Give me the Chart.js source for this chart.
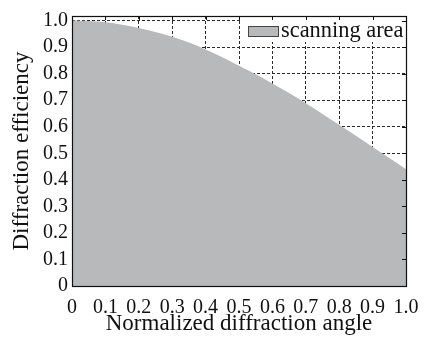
<!DOCTYPE html>
<html>
<head>
<meta charset="utf-8">
<script src="https://cdn.jsdelivr.net/npm/chart.js@4/dist/chart.umd.min.js"></script>
<style>
  body { margin: 0; background: #fff; }
  #wrap { width: 432px; height: 338px; }
</style>
</head>
<body>
<div id="wrap"><canvas id="effchart" width="432" height="338"></canvas></div>
<script>
// normalized diffraction angle and efficiency
var angles = [0, 0.05, 0.1, 0.15, 0.2, 0.25, 0.3, 0.35, 0.4, 0.45, 0.5,
              0.55, 0.6, 0.65, 0.7, 0.75, 0.8, 0.85, 0.9, 0.95, 1.0];
var efficiency = [1.0, 0.998, 0.993, 0.984, 0.972, 0.957, 0.939, 0.917, 0.891, 0.862, 0.830,
                  0.798, 0.763, 0.727, 0.688, 0.648, 0.607, 0.566, 0.524, 0.482, 0.44];

var xTicks = [0, 0.1, 0.2, 0.3, 0.4, 0.5, 0.6, 0.7, 0.8, 0.9, 1.0];
var xTickLabels = ["0", "0.1", "0.2", "0.3", "0.4", "0.5", "0.6", "0.7", "0.8", "0.9", "1.0"];
var yTicks = [0, 0.1, 0.2, 0.3, 0.4, 0.5, 0.6, 0.7, 0.8, 0.9, 1.0];
var yTickLabels = ["0", "0.1", "0.2", "0.3", "0.4", "0.5", "0.6", "0.7", "0.8", "0.9", "1.0"];

var seriesName = "scanning area";
var xTitle = "Normalized diffraction angle";
var yTitle = "Diffraction efficiency";

var fillColor = "#b8b9bb";

Chart.defaults.font.family = "'Liberation Serif', 'Times New Roman', serif";
Chart.defaults.color = "#111";

var points = angles.map(function (a, i) { return { x: a, y: efficiency[i] }; });

// frame, inner ticks and boxed legend in the upper right
var framePlugin = {
    id: "frame",
    afterDraw: function (chart) {
        var ctx = chart.ctx;
        var area = chart.chartArea;
        var xs = chart.scales.x, ys = chart.scales.y;
        ctx.save();

        // legend
        ctx.fillStyle = "#fff";
        ctx.fillRect(242, 17, area.right - 243, 25);
        ctx.fillStyle = fillColor;
        ctx.fillRect(248.5, 26.5, 30, 10);
        ctx.strokeStyle = "#444";
        ctx.lineWidth = 1;
        ctx.strokeRect(248.5, 26.5, 30, 10);
        ctx.fillStyle = "#111";
        ctx.font = "22.4px 'Liberation Serif'";
        ctx.textBaseline = "alphabetic";
        ctx.fillText(seriesName, 281, 37);

        // ticks on top and right
        ctx.strokeStyle = "#111";
        ctx.beginPath();
        xTicks.forEach(function (v) {
            var px = Math.round(xs.getPixelForValue(v)) + 0.5;
            ctx.moveTo(px, area.top);
            ctx.lineTo(px, area.top + 4);
        });
        yTicks.forEach(function (v) {
            var py = Math.round(ys.getPixelForValue(v)) + 0.5;
            ctx.moveTo(area.right, py);
            ctx.lineTo(area.right - 4, py);
        });
        ctx.stroke();

        ctx.lineWidth = 1.2;
        ctx.strokeRect(Math.round(area.left) + 0.5, Math.round(area.top) + 0.5,
            Math.round(area.right - area.left), Math.round(area.bottom - area.top));
        ctx.restore();
    }
};

var config = {
    type: "line",
    data: {
        datasets: [{
            label: seriesName,
            data: points,
            backgroundColor: fillColor,
            borderWidth: 0,
            pointRadius: 0,
            fill: "origin",
            cubicInterpolationMode: "monotone"
        }]
    },
    options: {
        responsive: false,
        animation: false,
        layout: { padding: { top: 11, right: 26, left: 0, bottom: 0 } },
        plugins: {
            legend: { display: false },
            tooltip: { enabled: false }
        },
        scales: {
            x: {
                type: "linear",
                min: 0,
                max: 1,
                afterFit: function (s) { s.height = 52; },
                afterBuildTicks: function (s) { s.ticks = xTicks.map(function (v) { return { value: v }; }); },
                ticks: {
                    autoSkip: false,
                    maxRotation: 0,
                    padding: 10,
                    font: { size: 20 },
                    callback: function (v) { return xTickLabels[xTicks.indexOf(v)]; }
                },
                grid: {
                    drawTicks: false,
                    color: function (c) { return (c.tick && (c.tick.value === 0 || c.tick.value === 1)) ? "rgba(0,0,0,0)" : "#2a2a2a"; },
                    lineWidth: 1
                },
                border: { display: false, dash: [3, 2] },
                title: {
                    display: true,
                    text: xTitle,
                    font: { size: 23 },
                    padding: { top: 0, bottom: 0 }
                }
            },
            y: {
                min: 0,
                max: 1.017,
                afterFit: function (s) { s.width = 72; },
                afterBuildTicks: function (s) { s.ticks = yTicks.map(function (v) { return { value: v }; }); },
                ticks: {
                    padding: 4,
                    font: { size: 20 },
                    callback: function (v) { return yTickLabels[yTicks.indexOf(v)]; }
                },
                grid: {
                    drawTicks: false,
                    color: function (c) { return (c.tick && c.tick.value === 0) ? "rgba(0,0,0,0)" : "#2a2a2a"; },
                    lineWidth: 1
                },
                border: { display: false, dash: [3, 2] },
                title: {
                    display: true,
                    text: yTitle,
                    font: { size: 23 },
                    padding: { top: 8, bottom: 0 }
                }
            }
        }
    },
    plugins: [framePlugin]
};

var effChart = new Chart(document.getElementById("effchart"), config);
</script>
</body>
</html>
